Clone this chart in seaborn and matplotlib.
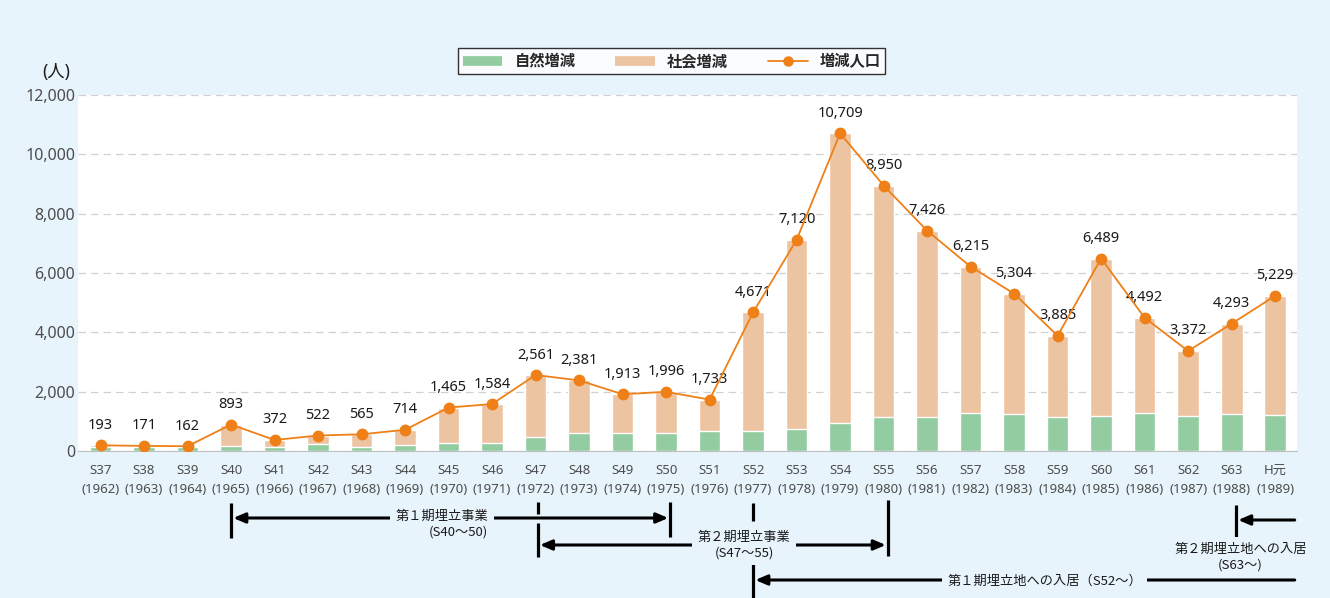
import numpy as np
import seaborn as sns
import matplotlib.pyplot as plt
from matplotlib.lines import Line2D
from matplotlib.transforms import blended_transform_factory

# data
era_labels = ['S37', 'S38', 'S39', 'S40', 'S41', 'S42', 'S43', 'S44', 'S45', 'S46',
              'S47', 'S48', 'S49', 'S50', 'S51', 'S52', 'S53', 'S54', 'S55', 'S56',
              'S57', 'S58', 'S59', 'S60', 'S61', 'S62', 'S63', 'H元']
year_labels = ['1962', '1963', '1964', '1965', '1966', '1967', '1968', '1969', '1970', '1971',
               '1972', '1973', '1974', '1975', '1976', '1977', '1978', '1979', '1980', '1981',
               '1982', '1983', '1984', '1985', '1986', '1987', '1988', '1989']
total_change = [193, 171, 162, 893, 372, 522, 565, 714, 1465, 1584,
                2561, 2381, 1913, 1996, 1733, 4671, 7120, 10709, 8950, 7426,
                6215, 5304, 3885, 6489, 4492, 3372, 4293, 5229]
natural_change = [150, 140, 140, 170, 150, 250, 150, 200, 280, 280,
                  460, 600, 620, 600, 690, 670, 730, 930, 1160, 1150,
                  1270, 1260, 1160, 1180, 1290, 1180, 1260, 1200]
y_ticks = [0, 2000, 4000, 6000, 8000, 10000, 12000]

BG = '#E8F4FC'
GREEN = '#92CCA0'
BEIGE = '#EDC4A2'
ORANGE = '#EE8017'
GRAY = '#4d4d4d'

sns.set_style('white')
plt.rcParams['font.family'] = ['Noto Sans', 'Noto Sans CJK JP', 'DejaVu Sans']

fig = plt.figure(figsize=(13.3, 5.98), dpi=100, facecolor=BG)
ax = fig.add_axes([0.0586, 0.2458, 0.9165, 0.5953])
ax.set_facecolor('white')

labels = [f'{e}\n({y})' for e, y in zip(era_labels, year_labels)]
x = np.arange(len(labels))
total = np.array(total_change)
natural = np.array(natural_change)

# stacked bars: draw total in beige, natural part on top in green
sns.barplot(x=labels, y=total, color=BEIGE, saturation=1, width=0.5, ax=ax, zorder=2)
sns.barplot(x=labels, y=natural, color=GREEN, saturation=1, width=0.5, ax=ax, zorder=3)
ax.plot(x, total, color=ORANGE, lw=1.3, marker='o', markersize=7.5, zorder=4)

for xi, v in zip(x, total):
    ax.annotate(f'{v:,}', (xi, v), xytext=(0, 9), textcoords='offset points',
                ha='center', va='bottom', fontsize=10.5, color='#1a1a1a')

ax.set_xlim(-0.52, 27.5)
ax.set_ylim(0, 12000)
ax.set_yticks(y_ticks)
ax.set_yticklabels([f'{t:,}' for t in y_ticks], fontsize=11.5, color=GRAY)
ax.tick_params(axis='x', labelsize=9.5, colors=GRAY, length=0, pad=9)
ax.tick_params(axis='y', length=0, pad=2)
for t in ax.get_xticklabels():
    t.set_linespacing(1.65)
ax.yaxis.grid(True, color='#D0D0D0', ls=(0, (6, 4)), lw=0.9)
ax.set_axisbelow(True)
for s in ['top', 'left', 'right']:
    ax.spines[s].set_visible(False)
ax.spines['bottom'].set_color('#BFBFBF')
ax.set_xlabel('')

fig.text(0.042, 0.88, '(人)', fontsize=12.5, color='#1a1a1a', ha='center', va='center')

# legend
handles = [Line2D([], [], color=GREEN, lw=7, solid_capstyle='butt'),
           Line2D([], [], color=BEIGE, lw=7, solid_capstyle='butt'),
           Line2D([], [], color=ORANGE, lw=1.3, marker='o', markersize=6.5)]
leg = fig.legend(handles, ['自然増減', '社会増減', '増減人口'], loc='center',
                 bbox_to_anchor=(0.505, 0.898), ncols=3, frameon=True, fancybox=False,
                 edgecolor='black', handlelength=2.6, columnspacing=2.6,
                 prop={'family': ['Noto Sans CJK JP'], 'size': 11, 'weight': 'bold'},
                 borderpad=0.3)
leg.get_frame().set_linewidth(1.0)

# period annotations below the axis (x in data units, y in figure pixels)
tr = blended_transform_factory(ax.transData, fig.transFigure)
H = 598.0


def fy(py):
    return 1 - py / H


def vline(xd, y0, y1):
    ax.plot([xd, xd], [fy(y0), fy(y1)], transform=tr, color='black', lw=2.3,
            clip_on=False, solid_capstyle='butt')


def arrow(x_from, x_to, py, style='-|>'):
    ax.annotate('', xy=(x_to, fy(py)), xytext=(x_from, fy(py)), xycoords=tr, textcoords=tr,
                arrowprops=dict(arrowstyle=style + ',head_length=0.7,head_width=0.3',
                                color='black', lw=2.2, shrinkA=0, shrinkB=0),
                annotation_clip=False)


def label(xd, py, txt, ma='center'):
    ax.text(xd, fy(py), txt, transform=tr, ha='center', va='center', fontsize=9.5,
            family=['Noto Sans CJK JP', 'DejaVu Sans'],
            color='#1a1a1a', multialignment=ma, linespacing=1.25, clip_on=False,
            bbox=dict(facecolor=BG, edgecolor='none', pad=4), zorder=5)


# 第1期埋立事業
vline(3.0, 503, 538)
vline(13.1, 502, 537)
arrow(3.05, 13.05, 518, '<|-|>')
label(7.85, 524, '第１期埋立事業\n(S40～50)', 'right')

# 第2期埋立事業
vline(10.05, 502, 514)
vline(10.05, 523, 557)
vline(18.1, 500, 556)
arrow(10.1, 18.05, 545, '<|-|>')
label(14.8, 545, '第２期埋立事業\n(S47～55)')

# 第1期埋立地への入居
vline(15.0, 503, 521)
vline(15.0, 545, 598)
arrow(27.45, 15.05, 580)
label(21.7, 581, '第１期埋立地への入居（S52～）')

# 第2期埋立地への入居
vline(26.1, 505, 540)
arrow(27.45, 26.15, 520)
label(26.2, 557, '第２期埋立地への入居\n(S63～)')

fig.savefig('out.png', dpi=100, facecolor=BG)
